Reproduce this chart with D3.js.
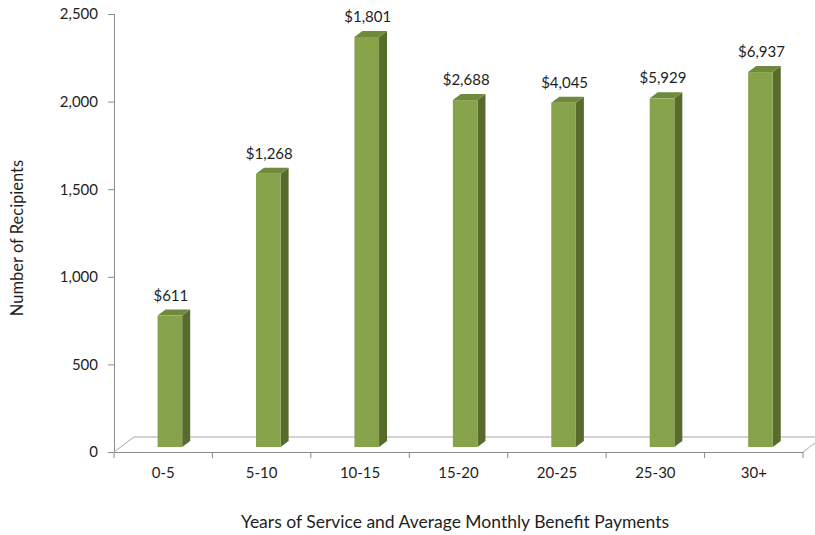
<!DOCTYPE html>
<html>
<head>
<meta charset="utf-8">
<script src="https://cdn.jsdelivr.net/npm/d3@7"></script>
<style>
  html, body { margin: 0; padding: 0; background: #fff; }
  svg { display: block; font-family: Lato, "Open Sans", sans-serif; }
</style>
</head>
<body>
<svg id="chart" width="815" height="535"></svg>
<script>
// Recipients by years of service, with average monthly benefit per group
const categories = ["0-5", "5-10", "10-15", "15-20", "20-25", "25-30", "30+"];
const recipients = [750, 1560, 2340, 1980, 1965, 1990, 2140];
const benefitLabels = ["$611", "$1,268", "$1,801", "$2,688", "$4,045", "$5,929", "$6,937"];
const yTicks = [0, 500, 1000, 1500, 2000, 2500];

const svg = d3.select("#chart");

const plotLeft = 114, plotRight = 803, plotBottom = 452, plotTop = 14;

const x = d3.scaleBand().domain(categories).range([plotLeft, plotRight]).padding(0);
const y = d3.scaleLinear().domain([0, 2500]).range([plotBottom, plotTop]);

// oblique depth of the floor
const floorDx = 20, floorDy = -15;
// bar occupies depth from 1/3 to ~0.73 of the floor depth
const fFront = 1 / 3, fBack = 0.733;
const frontW = x.bandwidth() * 0.25;

const axisColor = "#8c8c8c";
const textColor = "#1e1e1e";

// floor outline
const floor = svg.append("g").attr("fill", "none").attr("stroke", "#a8a8a8").attr("stroke-width", 1);
floor.append("path").attr("d", `M${plotLeft},${plotBottom}L${plotLeft + floorDx},${plotBottom + floorDy}L${plotRight + floorDx},${plotBottom + floorDy}L${plotRight},${plotBottom}`);

// bars
const bars = svg.append("g");
categories.forEach((c, i) => {
  const v = recipients[i];
  const cx = x(c) + x.bandwidth() / 2;
  const x0 = cx + floorDx * fFront - frontW / 2;
  const x1 = x0 + frontW;
  const yb = y(0) + floorDy * fFront;
  const yt = y(v) + floorDy * fFront;
  const ddx = floorDx * (fBack - fFront);
  const ddy = floorDy * (fBack - fFront);
  const g = bars.append("g");
  // side face
  g.append("path")
    .attr("d", `M${x1},${yt}L${x1 + ddx},${yt + ddy}L${x1 + ddx},${yb + ddy}L${x1},${yb}Z`)
    .attr("fill", "#566b2c");
  // top face
  g.append("path")
    .attr("d", `M${x0},${yt}L${x0 + ddx},${yt + ddy}L${x1 + ddx},${yt + ddy}L${x1},${yt}Z`)
    .attr("fill", "#6e8a3a");
  // front face
  g.append("rect")
    .attr("x", x0).attr("y", yt).attr("width", frontW).attr("height", yb - yt)
    .attr("fill", "#86a24b");
  // benefit label
  svg.append("text")
    .attr("x", (x0 + x1) / 2 + 1)
    .attr("y", yt + ddy - 9)
    .attr("text-anchor", "middle")
    .attr("font-size", 15)
    .attr("fill", textColor)
    .text(benefitLabels[i]);
});

// y axis
const yAxis = svg.append("g")
  .attr("transform", `translate(${plotLeft},0)`)
  .call(d3.axisLeft(y).tickValues(yTicks).tickFormat(d3.format(",")).tickSize(6).tickPadding(10));
yAxis.select(".domain").attr("stroke", axisColor).attr("d", `M0.5,${plotTop}V${plotBottom}`);
yAxis.selectAll(".tick line").attr("stroke", axisColor);
yAxis.selectAll(".tick text").attr("font-size", 15).attr("font-family", "Lato, sans-serif").attr("fill", textColor);

// x axis: category labels centered in each band
const xAxis = svg.append("g")
  .attr("transform", `translate(0,${plotBottom})`)
  .call(d3.axisBottom(x).tickSize(0).tickPadding(15));
xAxis.select(".domain").attr("stroke", axisColor);
xAxis.selectAll(".tick text").attr("font-size", 15).attr("font-family", "Lato, sans-serif").attr("fill", textColor);

// tick marks at band boundaries
const boundaries = d3.range(categories.length + 1).map(i => plotLeft + i * x.step());
svg.append("g").selectAll("line").data(boundaries).join("line")
  .attr("x1", d => d).attr("x2", d => d)
  .attr("y1", plotBottom).attr("y2", plotBottom + 6)
  .attr("stroke", axisColor);

// axis titles
svg.append("text")
  .attr("transform", `translate(23,${238}) rotate(-90)`)
  .attr("text-anchor", "middle")
  .attr("font-size", 16.5)
  .attr("fill", textColor)
  .text("Number of Recipients");

svg.append("text")
  .attr("x", 455)
  .attr("y", 528)
  .attr("text-anchor", "middle")
  .attr("font-size", 17.5)
  .attr("fill", textColor)
  .text("Years of Service and Average Monthly Benefit Payments");
</script>
</body>
</html>
